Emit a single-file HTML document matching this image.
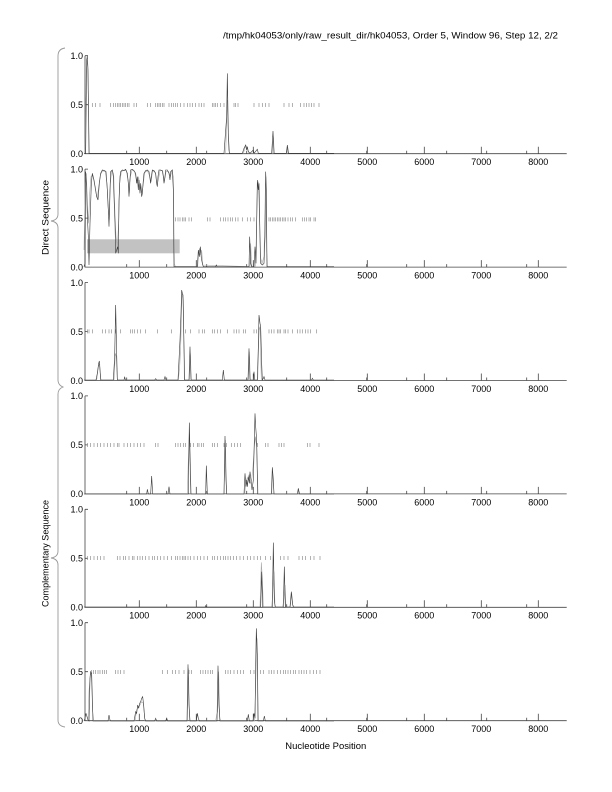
<!DOCTYPE html>
<html><head><meta charset="utf-8"><style>
html,body{margin:0;padding:0;background:#fff;}
svg{display:block;}
text{font-family:"Liberation Sans",Arial,sans-serif;font-size:9px;fill:#000;}
.ax{fill:none;stroke:#444;stroke-width:0.8;}
.d{fill:none;stroke:#3a3a3a;stroke-width:0.6;vector-effect:non-scaling-stroke;}
.g{fill:none;stroke:#a8a8a8;stroke-width:0.6;vector-effect:non-scaling-stroke;}
.t{fill:none;stroke:#8f8f8f;stroke-width:0.7;vector-effect:non-scaling-stroke;}
.br{fill:none;stroke:#999;stroke-width:0.9;}
</style></head><body>
<svg width="612" height="792" viewBox="0 0 612 792" xmlns="http://www.w3.org/2000/svg">
<rect width="612" height="792" fill="#fff"/>
<text x="223" y="38.7" textLength="335" lengthAdjust="spacingAndGlyphs">/tmp/hk04053/only/raw_result_dir/hk04053, Order 5, Window 96, Step 12, 2/2</text>

<!-- braces -->
<path class="br" d="M65,48 Q58,49 58,56 V214 Q58,220 51,221 Q58,222 58,228 V380 Q58,385 63,387 Q58,389 58,394 V551 Q58,557 51,558 Q58,559 58,565 V720 Q58,726 65,727"/>
<text transform="translate(48.3,217.5) rotate(-90)" x="-37.5" y="0" textLength="75" lengthAdjust="spacingAndGlyphs">Direct Sequence</text>
<text transform="translate(48.3,553.5) rotate(-90)" x="-53.5" y="0" textLength="107" lengthAdjust="spacingAndGlyphs">Complementary Sequence</text>
<text x="285.3" y="749" textLength="81" lengthAdjust="spacingAndGlyphs">Nucleotide Position</text>

<!-- gray rect panel 2 -->
<rect x="87" y="239.3" width="92.7" height="14" fill="#c2c2c2"/>

<!-- axes for 6 panels -->
<g transform="translate(0,153.7)">
<path class="ax" d="M85,-98V0H566.7M85,-98h3M85,-49h3M139.3,0v-7M196.3,0v-7M253.3,0v-7M310.3,0v-7M367.3,0v-7M424.3,0v-7M481.3,0v-7M538.3,0v-7M126.7,0v-3M166.7,0v-3M206.7,0v-3M246.7,0v-3M286.7,0v-3M326.7,0v-3M366.7,0v-3M406.7,0v-3M446.7,0v-3M486.7,0v-3M526.7,0v-3"/>
<text x="83" y="-94.7" text-anchor="end">1.0</text><text x="83" y="-45.7" text-anchor="end">0.5</text><text x="83" y="3.3" text-anchor="end">0.0</text>
<text x="139.3" y="11.4" text-anchor="middle">1000</text><text x="196.3" y="11.4" text-anchor="middle">2000</text><text x="253.3" y="11.4" text-anchor="middle">3000</text><text x="310.3" y="11.4" text-anchor="middle">4000</text><text x="367.3" y="11.4" text-anchor="middle">5000</text><text x="424.3" y="11.4" text-anchor="middle">6000</text><text x="481.3" y="11.4" text-anchor="middle">7000</text><text x="538.3" y="11.4" text-anchor="middle">8000</text>
</g>
<g transform="translate(0,267.1)">
<path class="ax" d="M85,-98V0H566.7M85,-98h3M85,-49h3M139.3,0v-7M196.3,0v-7M253.3,0v-7M310.3,0v-7M367.3,0v-7M424.3,0v-7M481.3,0v-7M538.3,0v-7M126.7,0v-3M166.7,0v-3M206.7,0v-3M246.7,0v-3M286.7,0v-3M326.7,0v-3M366.7,0v-3M406.7,0v-3M446.7,0v-3M486.7,0v-3M526.7,0v-3"/>
<text x="83" y="-94.7" text-anchor="end">1.0</text><text x="83" y="-45.7" text-anchor="end">0.5</text><text x="83" y="3.3" text-anchor="end">0.0</text>
<text x="139.3" y="11.4" text-anchor="middle">1000</text><text x="196.3" y="11.4" text-anchor="middle">2000</text><text x="253.3" y="11.4" text-anchor="middle">3000</text><text x="310.3" y="11.4" text-anchor="middle">4000</text><text x="367.3" y="11.4" text-anchor="middle">5000</text><text x="424.3" y="11.4" text-anchor="middle">6000</text><text x="481.3" y="11.4" text-anchor="middle">7000</text><text x="538.3" y="11.4" text-anchor="middle">8000</text>
</g>
<g transform="translate(0,380.5)">
<path class="ax" d="M85,-98V0H566.7M85,-98h3M85,-49h3M139.3,0v-7M196.3,0v-7M253.3,0v-7M310.3,0v-7M367.3,0v-7M424.3,0v-7M481.3,0v-7M538.3,0v-7M126.7,0v-3M166.7,0v-3M206.7,0v-3M246.7,0v-3M286.7,0v-3M326.7,0v-3M366.7,0v-3M406.7,0v-3M446.7,0v-3M486.7,0v-3M526.7,0v-3"/>
<text x="83" y="-94.7" text-anchor="end">1.0</text><text x="83" y="-45.7" text-anchor="end">0.5</text><text x="83" y="3.3" text-anchor="end">0.0</text>
<text x="139.3" y="11.4" text-anchor="middle">1000</text><text x="196.3" y="11.4" text-anchor="middle">2000</text><text x="253.3" y="11.4" text-anchor="middle">3000</text><text x="310.3" y="11.4" text-anchor="middle">4000</text><text x="367.3" y="11.4" text-anchor="middle">5000</text><text x="424.3" y="11.4" text-anchor="middle">6000</text><text x="481.3" y="11.4" text-anchor="middle">7000</text><text x="538.3" y="11.4" text-anchor="middle">8000</text>
</g>
<g transform="translate(0,493.9)">
<path class="ax" d="M85,-98V0H566.7M85,-98h3M85,-49h3M139.3,0v-7M196.3,0v-7M253.3,0v-7M310.3,0v-7M367.3,0v-7M424.3,0v-7M481.3,0v-7M538.3,0v-7M126.7,0v-3M166.7,0v-3M206.7,0v-3M246.7,0v-3M286.7,0v-3M326.7,0v-3M366.7,0v-3M406.7,0v-3M446.7,0v-3M486.7,0v-3M526.7,0v-3"/>
<text x="83" y="-94.7" text-anchor="end">1.0</text><text x="83" y="-45.7" text-anchor="end">0.5</text><text x="83" y="3.3" text-anchor="end">0.0</text>
<text x="139.3" y="11.4" text-anchor="middle">1000</text><text x="196.3" y="11.4" text-anchor="middle">2000</text><text x="253.3" y="11.4" text-anchor="middle">3000</text><text x="310.3" y="11.4" text-anchor="middle">4000</text><text x="367.3" y="11.4" text-anchor="middle">5000</text><text x="424.3" y="11.4" text-anchor="middle">6000</text><text x="481.3" y="11.4" text-anchor="middle">7000</text><text x="538.3" y="11.4" text-anchor="middle">8000</text>
</g>
<g transform="translate(0,607.3)">
<path class="ax" d="M85,-98V0H566.7M85,-98h3M85,-49h3M139.3,0v-7M196.3,0v-7M253.3,0v-7M310.3,0v-7M367.3,0v-7M424.3,0v-7M481.3,0v-7M538.3,0v-7M126.7,0v-3M166.7,0v-3M206.7,0v-3M246.7,0v-3M286.7,0v-3M326.7,0v-3M366.7,0v-3M406.7,0v-3M446.7,0v-3M486.7,0v-3M526.7,0v-3"/>
<text x="83" y="-94.7" text-anchor="end">1.0</text><text x="83" y="-45.7" text-anchor="end">0.5</text><text x="83" y="3.3" text-anchor="end">0.0</text>
<text x="139.3" y="11.4" text-anchor="middle">1000</text><text x="196.3" y="11.4" text-anchor="middle">2000</text><text x="253.3" y="11.4" text-anchor="middle">3000</text><text x="310.3" y="11.4" text-anchor="middle">4000</text><text x="367.3" y="11.4" text-anchor="middle">5000</text><text x="424.3" y="11.4" text-anchor="middle">6000</text><text x="481.3" y="11.4" text-anchor="middle">7000</text><text x="538.3" y="11.4" text-anchor="middle">8000</text>
</g>
<g transform="translate(0,720.7)">
<path class="ax" d="M85,-98V0H566.7M85,-98h3M85,-49h3M139.3,0v-7M196.3,0v-7M253.3,0v-7M310.3,0v-7M367.3,0v-7M424.3,0v-7M481.3,0v-7M538.3,0v-7M126.7,0v-3M166.7,0v-3M206.7,0v-3M246.7,0v-3M286.7,0v-3M326.7,0v-3M366.7,0v-3M406.7,0v-3M446.7,0v-3M486.7,0v-3M526.7,0v-3"/>
<text x="83" y="-94.7" text-anchor="end">1.0</text><text x="83" y="-45.7" text-anchor="end">0.5</text><text x="83" y="3.3" text-anchor="end">0.0</text>
<text x="139.3" y="11.4" text-anchor="middle">1000</text><text x="196.3" y="11.4" text-anchor="middle">2000</text><text x="253.3" y="11.4" text-anchor="middle">3000</text><text x="310.3" y="11.4" text-anchor="middle">4000</text><text x="367.3" y="11.4" text-anchor="middle">5000</text><text x="424.3" y="11.4" text-anchor="middle">6000</text><text x="481.3" y="11.4" text-anchor="middle">7000</text><text x="538.3" y="11.4" text-anchor="middle">8000</text>
</g>

<!-- Panels 1 & 2 data -->
<g transform="translate(84,50) scale(0.33333)">
<path class="t" d="M25,159v12M35,159v12M48,159v12M80,159v12M88,159v12M95,159v12M100,159v12M105,159v12M110,159v12M115,159v12M120,159v12M125,159v12M130,159v12M135,159v12M150,159v12M158,159v12M190,159v12M200,159v12M215,159v12M220,159v12M225,159v12M230,159v12M235,159v12M240,159v12M255,159v12M262,159v12M268,159v12M275,159v12M280,159v12M290,159v12M300,159v12M310,159v12M318,159v12M325,159v12M335,159v12M345,159v12M352,159v12M360,159v12M385,159v12M390,159v12M395,159v12M400,159v12M410,159v12M420,159v12M450,159v12M455,159v12M462,159v12M510,159v12M525,159v12M535,159v12M545,159v12M555,159v12M600,159v12M615,159v12M625,159v12M650,159v12M660,159v12M668,159v12M675,159v12M682,159v12M690,159v12M705,159v12"/>
<polyline class="g" points="3,310 7,60 11,30 16,310 425,310 430,150 434,300 437,310 478,310 483,293 487,288 492,302 497,310 565,310 568,260 571,310 608,310 611,290 614,310"/>
<polyline class="d" points="0,310 5,310 8,30 10,18 12,60 15,310 420,310 428,200 430,70 433,250 436,310 475,310 480,295 485,285 488,300 490,290 493,305 498,310 508,300 510,310 520,298 523,310 563,310 567,243 570,310 607,310 610,285 613,310 750,310"/>

<path class="t" d="M275,502v12M282,502v12M288,502v12M295,502v12M300,502v12M305,502v12M315,502v12M322,502v12M370,502v12M378,502v12M410,502v12M418,502v12M425,502v12M432,502v12M440,502v12M445,502v12M455,502v12M462,502v12M475,502v12M490,502v12M500,502v12M510,502v12M555,502v12M560,502v12M565,502v12M570,502v12M575,502v12M580,502v12M585,502v12M590,502v12M595,502v12M600,502v12M605,502v12M612,502v12M620,502v12M625,502v12M635,502v12M655,502v12M662,502v12M668,502v12M675,502v12M680,502v12M690,502v12M695,502v12"/>
<polyline class="g" points="0,600 4,380 7,370 11,480 14,520 17,430 21,380 26,375 31,400 36,430 40,445 44,410 49,375 56,362 64,365 69,400 72,470 76,510 79,400 83,362 89,370 92,470 96,560 100,590 104,520 107,400 112,365 120,360 127,362 132,390 136,430 139,380 144,360 152,365 157,390 161,400 164,380 167,420 171,410 174,430 178,400 182,368 190,362 198,380 201,395 206,362 214,368 219,405 223,390 228,362 236,362 241,395 246,365 254,365 259,380 264,362 268,380 271,640 274,650 341,650 344,610 347,595 350,615 353,600 356,645 498,650 500,580 503,650 514,650 517,560 520,420 523,395 526,480 529,620 534,640 540,620 544,420 546,380 548,600 550,650"/>
<polyline class="d" points="0,650 3,640 5,365 8,420 10,500 13,560 15,645 18,520 22,400 25,370 30,390 35,420 38,440 42,450 46,400 50,370 55,360 62,362 66,365 70,420 73,480 75,530 78,420 80,365 85,360 88,380 90,440 93,520 95,610 98,600 101,590 103,610 105,450 108,380 110,365 115,360 120,362 125,358 130,370 133,400 135,440 137,400 140,360 145,358 150,362 155,370 158,400 160,380 163,420 165,390 168,430 170,400 173,440 175,430 178,390 180,370 185,362 190,360 195,365 200,400 202,380 205,360 210,362 215,370 218,400 220,410 222,380 225,360 230,360 235,362 238,380 240,400 243,380 245,360 250,360 255,370 258,390 260,365 265,360 268,420 270,650 340,650 343,600 346,620 349,590 352,625 355,640 358,650 395,650 397,645 399,650 495,650 497,560 500,640 503,650 510,650 513,590 516,640 518,520 520,390 523,420 525,400 528,560 530,640 535,645 540,640 543,560 545,365 547,420 549,650 750,650"/>
</g>

<!-- Panels 3 & 4 data -->
<g transform="translate(84,280) scale(0.33333)">
<path class="t" d="M10,148v12M15,148v12M25,148v12M55,148v12M65,148v12M75,148v12M82,148v12M95,148v12M110,148v12M140,148v12M145,148v12M152,148v12M160,148v12M170,148v12M185,148v12M220,148v12M262,148v12M305,148v12M320,148v12M345,148v12M355,148v12M362,148v12M385,148v12M392,148v12M400,148v12M410,148v12M430,148v12M450,148v12M458,148v12M465,148v12M478,148v12M485,148v12M510,148v12M518,148v12M555,148v12M562,148v12M570,148v12M580,148v12M585,148v12M590,148v12M600,148v12M605,148v12M612,148v12M625,148v12M640,148v12M648,148v12M655,148v12M665,148v12M672,148v12M680,148v12M698,148v12"/>
<polyline class="g" points="38,300 43,260 47,250 50,295 52,300 90,300 94,220 97,230 100,300 283,300 287,260 290,200 294,40 298,60 301,300 316,300 319,220 322,300 493,300 496,215 499,300 521,300 525,150 528,140 532,300"/>
<polyline class="d" points="0,300 36,300 40,280 44,250 46,243 48,270 50,300 88,300 92,230 95,75 98,220 100,300 120,300 122,290 124,300 212,300 215,296 218,300 240,300 243,290 246,300 282,300 285,240 288,180 291,100 293,30 295,40 297,45 299,150 302,300 315,300 318,200 321,300 415,300 418,270 421,300 492,300 495,205 498,300 508,300 510,275 512,300 520,300 523,200 525,105 528,130 530,140 533,250 535,300 538,295 540,290 543,300 683,300 685,295 688,300 750,300"/>

<path class="t" d="M10,489v12M20,489v12M30,489v12M40,489v12M50,489v12M60,489v12M70,489v12M80,489v12M90,489v12M100,489v12M105,489v12M120,489v12M130,489v12M140,489v12M150,489v12M160,489v12M170,489v12M180,489v12M215,489v12M222,489v12M275,489v12M282,489v12M290,489v12M298,489v12M305,489v12M320,489v12M328,489v12M340,489v12M345,489v12M352,489v12M358,489v12M385,489v12M392,489v12M400,489v12M420,489v12M428,489v12M442,489v12M452,489v12M460,489v12M470,489v12M520,489v12M545,489v12M552,489v12M585,489v12M592,489v12M600,489v12M670,489v12M678,489v12M705,489v12"/>
<polyline class="g" points="310,642 313,540 316,460 320,642 420,642 424,480 428,642 482,642 486,600 490,595 495,585 499,610 503,600 507,560 511,500 514,470 518,500 522,642 563,642 566,580 570,642 641,642 644,630 648,642"/>
<polyline class="d" points="0,642 188,642 190,628 193,642 200,642 203,588 206,642 252,642 255,620 258,642 313,642 316,428 319,560 321,642 365,642 367,557 370,642 420,642 423,468 426,600 428,642 480,642 483,580 486,620 488,600 490,620 493,590 496,610 498,575 501,600 504,630 508,600 511,480 513,400 515,440 518,480 521,642 562,642 565,562 568,600 570,642 640,642 643,625 646,642 750,642"/>
</g>

<!-- Panels 5 & 6 data -->
<g transform="translate(84,505) scale(0.33333)">
<path class="t" d="M10,153v12M20,153v12M30,153v12M40,153v12M50,153v12M60,153v12M100,153v12M108,153v12M118,153v12M125,153v12M135,153v12M145,153v12M150,153v12M160,153v12M168,153v12M175,153v12M185,153v12M195,153v12M205,153v12M212,153v12M220,153v12M230,153v12M240,153v12M250,153v12M262,153v12M275,153v12M280,153v12M288,153v12M295,153v12M300,153v12M305,153v12M312,153v12M320,153v12M330,153v12M340,153v12M350,153v12M360,153v12M370,153v12M385,153v12M392,153v12M400,153v12M410,153v12M418,153v12M425,153v12M432,153v12M440,153v12M448,153v12M458,153v12M468,153v12M478,153v12M490,153v12M500,153v12M510,153v12M520,153v12M530,153v12M545,153v12M560,153v12M590,153v12M600,153v12M612,153v12M645,153v12M655,153v12M665,153v12M680,153v12M690,153v12M708,153v12"/>
<polyline class="g" points="528,306 532,172 535,220 538,306 563,306 566,270 570,200 573,306 596,306 600,280 603,240 606,306 619,306 623,265 627,306"/>
<polyline class="d" points="0,306 363,306 365,302 367,306 530,306 533,200 536,306 565,306 568,113 571,290 574,306 598,306 601,185 604,306 618,306 622,260 626,300 630,306 750,306"/>

<path class="t" d="M22,495v12M28,495v12M35,495v12M42,495v12M48,495v12M55,495v12M62,495v12M68,495v12M95,495v12M102,495v12M110,495v12M120,495v12M235,495v12M250,495v12M265,495v12M275,495v12M285,495v12M300,495v12M315,495v12M322,495v12M350,495v12M357,495v12M365,495v12M372,495v12M380,495v12M385,495v12M425,495v12M432,495v12M440,495v12M450,495v12M460,495v12M470,495v12M478,495v12M500,495v12M510,495v12M530,495v12M538,495v12M555,495v12M562,495v12M570,495v12M580,495v12M590,495v12M598,495v12M605,495v12M612,495v12M620,495v12M628,495v12M635,495v12M645,495v12M652,495v12M660,495v12M668,495v12M678,495v12M688,495v12M698,495v12M708,495v12"/>
<polyline class="g" points="12,648 15,560 19,505 22,510 26,620 29,648 153,648 158,615 163,605 168,600 173,590 178,595 183,648 310,648 313,490 317,648 395,648 398,630 401,620 404,500 407,640 410,648 512,648 516,500 519,400 523,648"/>
<polyline class="d" points="0,648 3,640 6,625 9,635 12,645 15,648 18,520 20,500 23,505 25,580 27,648 72,648 75,630 78,645 80,648 150,648 155,620 158,625 161,600 164,610 167,595 170,590 173,580 176,575 179,600 182,640 185,648 212,648 215,640 218,648 245,648 248,640 251,648 309,648 312,478 315,600 318,648 337,648 340,625 343,640 346,648 399,648 402,482 405,600 408,648 490,648 493,628 496,648 507,648 510,625 513,640 515,480 517,370 520,450 522,648 538,648 541,633 544,648 750,648"/>
</g>
</svg>
</body></html>
